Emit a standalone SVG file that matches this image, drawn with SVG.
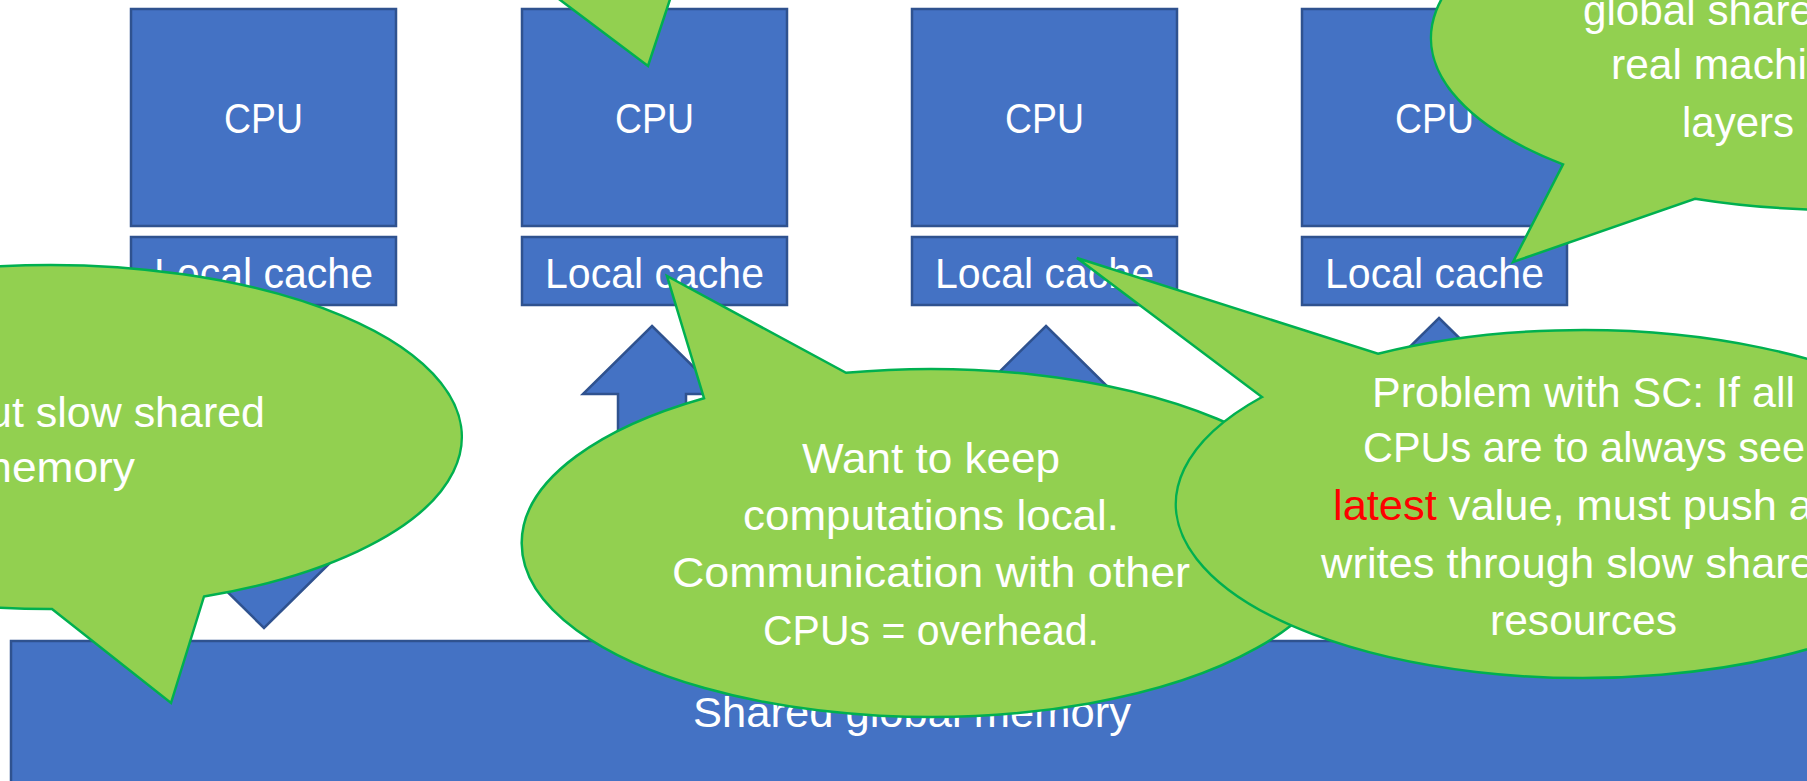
<svg xmlns="http://www.w3.org/2000/svg" width="1807" height="781" viewBox="0 0 1807 781">
<defs>
<style>
.blk{fill:#4472C4;stroke:#2F528F;stroke-width:2.5}
.bub{fill:#92D050;stroke:#00B050;stroke-width:2.5;stroke-linejoin:miter}
.t{font-family:"Liberation Sans",Arial,sans-serif;font-size:42px;fill:#FFFFFF}
.red{fill:#FF0000}
</style>
</defs>
<rect width="1807" height="781" fill="#FFFFFF"/>
<g id="memory">
<rect class="blk" x="11" y="641" width="1810" height="150"/>
<text class="t" x="693" y="727" textLength="438" lengthAdjust="spacingAndGlyphs">Shared global memory</text>
</g>
<g id="connectors">
<path class="blk" d="M264 326 L333 394 L298 394 L298 560 L333 560 L264 628 L195 560 L230 560 L230 394 L195 394 Z"/>
<path class="blk" d="M652 326 L721 394 L686 394 L686 560 L721 560 L652 628 L583 560 L618 560 L618 394 L583 394 Z"/>
<path class="blk" d="M1046 326 L1115 394 L1080 394 L1080 560 L1115 560 L1046 628 L977 560 L1012 560 L1012 394 L977 394 Z"/>
<path class="blk" d="M1439 318 L1508 386 L1473 386 L1473 560 L1508 560 L1439 628 L1370 560 L1405 560 L1405 386 L1370 386 Z"/>
</g>
<g id="cpu1">
<rect class="blk" x="131" y="9" width="265" height="217"/>
<text class="t" x="224" y="133" textLength="79" lengthAdjust="spacingAndGlyphs">CPU</text>
</g>
<g id="cache1">
<rect class="blk" x="131" y="237" width="265" height="68"/>
<text class="t" x="154" y="288" textLength="219" lengthAdjust="spacingAndGlyphs">Local cache</text>
</g>
<g id="cpu2">
<rect class="blk" x="522" y="9" width="265" height="217"/>
<text class="t" x="615" y="133" textLength="79" lengthAdjust="spacingAndGlyphs">CPU</text>
</g>
<g id="cache2">
<rect class="blk" x="522" y="237" width="265" height="68"/>
<text class="t" x="545" y="288" textLength="219" lengthAdjust="spacingAndGlyphs">Local cache</text>
</g>
<g id="cpu3">
<rect class="blk" x="912" y="9" width="265" height="217"/>
<text class="t" x="1005" y="133" textLength="79" lengthAdjust="spacingAndGlyphs">CPU</text>
</g>
<g id="cache3">
<rect class="blk" x="912" y="237" width="265" height="68"/>
<text class="t" x="935" y="288" textLength="219" lengthAdjust="spacingAndGlyphs">Local cache</text>
</g>
<g id="cpu4">
<rect class="blk" x="1302" y="9" width="265" height="217"/>
<text class="t" x="1395" y="133" textLength="79" lengthAdjust="spacingAndGlyphs">CPU</text>
</g>
<g id="cache4">
<rect class="blk" x="1302" y="237" width="265" height="68"/>
<text class="t" x="1325" y="288" textLength="219" lengthAdjust="spacingAndGlyphs">Local cache</text>
</g>
<g id="callout-a">
<path class="bub" d="M204 596.5 A412 172 0 1 0 52 609 L171 703 Z"/>
<text class="t" x="-12" y="427" textLength="277" lengthAdjust="spacingAndGlyphs">ut slow shared</text>
<text class="t" x="-25" y="482" textLength="160" lengthAdjust="spacingAndGlyphs">memory</text>
</g>
<g id="callout-b">
<path class="bub" d="M507 -40 L648 66 L683 -40 Z"/>
</g>
<g id="callout-c">
<path class="bub" d="M1563 164.4 A410 172 0 1 1 1695 198.7 L1513 262 Z"/>
<text class="t" x="1583" y="25" textLength="230" lengthAdjust="spacingAndGlyphs">global share</text>
<text class="t" x="1611" y="79" textLength="196" lengthAdjust="spacingAndGlyphs">real machi</text>
<text class="t" x="1682" y="137" textLength="147" lengthAdjust="spacingAndGlyphs">layers o</text>
</g>
<g id="callout-d">
<path class="bub" d="M846 372.8 A409 174 0 1 1 704 398.2 L667 276 Z"/>
<text class="t" x="802" y="473" textLength="258" lengthAdjust="spacingAndGlyphs">Want to keep</text>
<text class="t" x="743" y="530" textLength="376" lengthAdjust="spacingAndGlyphs">computations local.</text>
<text class="t" x="672" y="587" textLength="518" lengthAdjust="spacingAndGlyphs">Communication with other</text>
<text class="t" x="763" y="645" textLength="336" lengthAdjust="spacingAndGlyphs">CPUs = overhead.</text>
</g>
<g id="callout-e">
<path class="bub" d="M1378 353.7 A407 174 0 1 1 1262 397 L1077 258 Z"/>
<text class="t" x="1372" y="407" textLength="423" lengthAdjust="spacingAndGlyphs">Problem with SC: If all</text>
<text class="t" x="1363" y="462" textLength="442" lengthAdjust="spacingAndGlyphs">CPUs are to always see</text>
<text class="t" x="1333" y="520" textLength="480" lengthAdjust="spacingAndGlyphs"><tspan class="red">latest</tspan> value, must push a</text>
<text class="t" x="1321" y="578" textLength="493" lengthAdjust="spacingAndGlyphs">writes through slow share</text>
<text class="t" x="1490" y="635" textLength="187" lengthAdjust="spacingAndGlyphs">resources</text>
</g>
</svg>
